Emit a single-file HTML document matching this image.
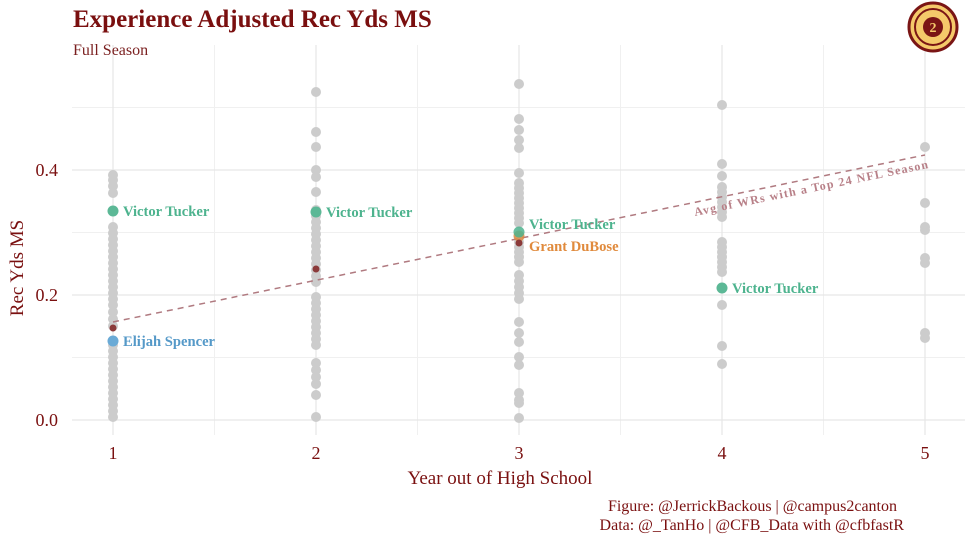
<!DOCTYPE html>
<html><head><meta charset="utf-8"><style>
html,body{margin:0;padding:0;background:#fff;}
svg{display:block;font-family:"Liberation Serif",serif;}
</style></head><body>
<svg id="s" width="975" height="542" viewBox="0 0 975 542" xmlns="http://www.w3.org/2000/svg">
<rect width="975" height="542" fill="#fff"/>
<g stroke="#f0f0f0" stroke-width="1">
<line x1="72" x2="965" y1="107.5" y2="107.5"/><line x1="72" x2="965" y1="232.5" y2="232.5"/><line x1="72" x2="965" y1="357.5" y2="357.5"/>
<line x1="214.5" x2="214.5" y1="45" y2="435"/><line x1="417.5" x2="417.5" y1="45" y2="435"/><line x1="620.5" x2="620.5" y1="45" y2="435"/><line x1="823.5" x2="823.5" y1="45" y2="435"/>
</g>
<g stroke="#e6e6e6" stroke-width="1.2">
<line x1="72" x2="965" y1="170" y2="170"/><line x1="72" x2="965" y1="295" y2="295"/><line x1="72" x2="965" y1="420" y2="420"/>
<line x1="113" x2="113" y1="45" y2="435"/><line x1="316" x2="316" y1="45" y2="435"/><line x1="519" x2="519" y1="45" y2="435"/><line x1="722" x2="722" y1="45" y2="435"/><line x1="925" x2="925" y1="45" y2="435"/>
</g>
<g id="dots" fill="#cccccc"></g>
<line x1="113" y1="322" x2="925" y2="155" stroke="#b07a80" stroke-width="1.5" stroke-dasharray="6,5"/>
<text transform="translate(695,216) rotate(-11.6)" font-size="12" font-weight="bold" fill="#b88088" letter-spacing="1.2">Avg of WRs with a Top 24 NFL Season</text>
<g fill="#8b3a3a"><circle cx="113" cy="328" r="3.5"/><circle cx="316" cy="269" r="3.5"/></g>
<circle cx="519" cy="236" r="5.5" fill="#e08a3c" opacity="0.8"/>
<circle cx="519" cy="232" r="5.5" fill="#4db38e" opacity="0.85"/>
<circle cx="519" cy="243" r="3.5" fill="#8b3a3a"/>
<g fill="#5cb896"><circle cx="113" cy="211" r="5.5"/><circle cx="316" cy="212" r="5.5"/><circle cx="722" cy="288" r="5.5"/></g>
<circle cx="113" cy="341" r="5.5" fill="#6aaad6"/>
<g font-size="14.6" font-weight="bold">
<text x="123" y="216" fill="#4db38e">Victor Tucker</text>
<text x="326" y="217" fill="#4db38e">Victor Tucker</text>
<text x="529" y="229" fill="#4db38e">Victor Tucker</text>
<text x="732" y="293" fill="#4db38e">Victor Tucker</text>
<text x="529" y="251" fill="#e08a3c">Grant DuBose</text>
<text x="123" y="346" fill="#5599c8">Elijah Spencer</text>
</g>
<g font-size="18" fill="#7a1010" text-anchor="end">
<text x="58" y="176">0.4</text><text x="58" y="301">0.2</text><text x="58" y="426">0.0</text>
</g>
<g font-size="18" fill="#7a1010" text-anchor="middle">
<text x="113" y="459">1</text><text x="316" y="459">2</text><text x="519" y="459">3</text><text x="722" y="459">4</text><text x="925" y="459">5</text>
<text x="500" y="484" font-size="19">Year out of High School</text>
<text transform="translate(23,268) rotate(-90)" font-size="19">Rec Yds MS</text>
</g>
<text x="73" y="27" font-size="25" font-weight="bold" fill="#7a0f0f">Experience Adjusted Rec Yds MS</text>
<text x="73" y="55" font-size="16" fill="#7a1f1f">Full Season</text>
<g font-size="16" fill="#7a1010" text-anchor="end">
<text x="897" y="511">Figure: @JerrickBackous | @campus2canton</text>
<text x="904" y="530">Data: @_TanHo | @CFB_Data with @cfbfastR</text>
</g>
<g transform="translate(933,27)">
<circle r="24" fill="#f5c96a" stroke="#7a1515" stroke-width="3"/>
<circle r="18" fill="none" stroke="#7a1515" stroke-width="2"/>
<circle r="10" fill="#7a1515"/>
<text y="5" font-size="14" font-weight="bold" fill="#f5c96a" text-anchor="middle">2</text>
</g>
</svg>
<script>
var g=document.getElementById('dots');
function add(x,ys){ys.forEach(function(y){var c=document.createElementNS('http://www.w3.org/2000/svg','circle');c.setAttribute('cx',x);c.setAttribute('cy',y);c.setAttribute('r',5);g.appendChild(c);});}
function range(a,b,st){var r=[];for(var y=a;y<=b;y+=st)r.push(y);return r;}
add(113,[175,180,186,193].concat(range(227,300,6)).concat(range(305,330,7)).concat(range(345,420,6)));
add(316,[92,132,147,170,177,192].concat(range(210,287,6)).concat(range(297,350,6)).concat([363,370,377,384,395,417]));
add(519,[84,119,130,140,148,173].concat(range(183,223,5)).concat(range(237,263,5)).concat(range(275,300,6)).concat([322,333,342,357,365,393,400,403,418]));
add(722,[105,164,176].concat(range(187,220,5)).concat(range(242,275,5)).concat([305,346,364]));
add(925,[147,203,227,230,258,263,333,338]);
</script>
</body></html>
